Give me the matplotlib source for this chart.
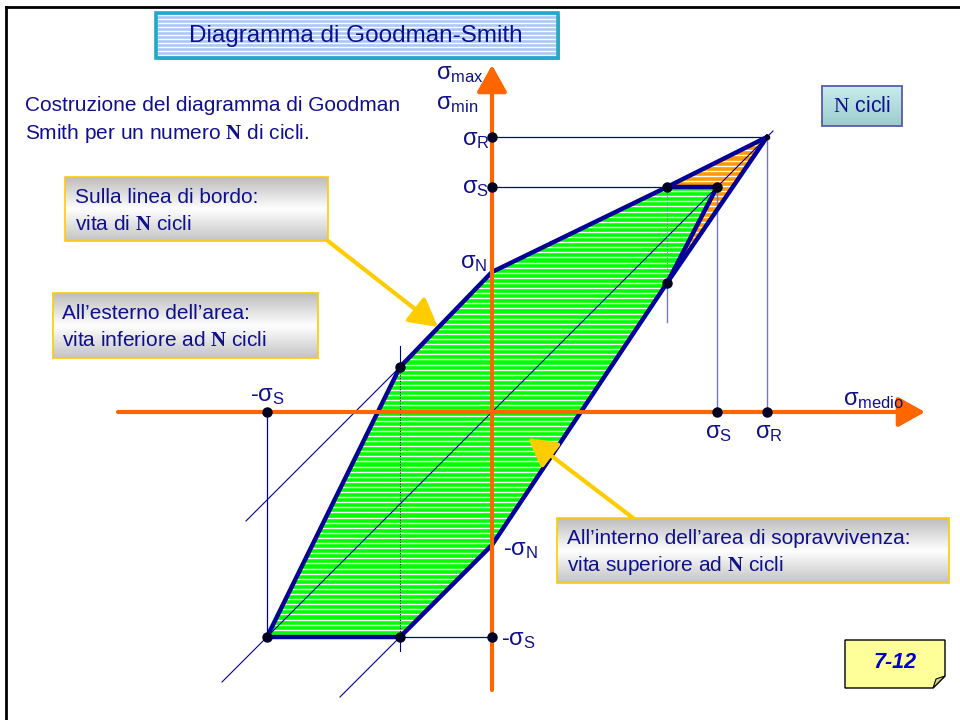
import numpy as np
import matplotlib
matplotlib.use("Agg")
import matplotlib.pyplot as plt
from matplotlib.patches import Polygon, Rectangle
from matplotlib.transforms import Affine2D
from matplotlib.colors import LinearSegmentedColormap

plt.rcParams['font.family'] = ['Liberation Sans', 'DejaVu Sans']
plt.rcParams['mathtext.fontset'] = 'custom'
plt.rcParams['mathtext.rm'] = 'Liberation Sans'
plt.rcParams['mathtext.it'] = 'Liberation Sans'
plt.rcParams['mathtext.bf'] = 'Liberation Serif:bold'
plt.rcParams['mathtext.sf'] = 'Liberation Serif'

# strengths (MPa)
sigma_R = 550
sigma_S = 450
sigma_N = 280
sigma_N_neg = -266

# sigma_max boundary (mean stress, stress)
upper_m = [-184, 0, 350, 550]
upper_s = [90, sigma_N, sigma_S, sigma_R]
# sigma_min boundary
lower_m = [550, 350, 0, -184]
lower_s = [sigma_R, 258, sigma_N_neg, -sigma_S]
# survival area (green) and region cut by yield (orange)
green_m = [-450, -184, 0, 350, 450, 350, 0, -184]
green_s = [-450, 90, sigma_N, sigma_S, sigma_S, 258, sigma_N_neg, -sigma_S]
orange_m = [350, 550, 350, 450]
orange_s = [sigma_S, sigma_R, 258, sigma_S]
# construction lines at 45 deg
bisect_m = [-540, 562]
constr1_m = [-492, -184]
constr1_s = [-218, 90]
constr2_m = [-304, -184]
constr2_s = [-570, -450]
# marked points
dots_m = [0, 0, -450, 450, 550, 0, -450, -184, -184, 350, 450, 350]
dots_s = [550, 450, 0, 0, 0, -450, -450, -450, 90, 450, 450, 258]

navy = '#000099'
txt = '#10108c'
orange_ax = '#ff6600'
gold = '#ffcc00'
pale = '#7777c0'

fig = plt.figure(figsize=(9.6, 7.2), dpi=100)
ax = fig.add_axes([0, 0, 1, 1])
ax.axis('off')

# diagram coordinates -> page pixels
diag = Affine2D().scale(0.5, -0.5).translate(492, 412) + ax.transData

# filled areas with white horizontal stripes
gp = Polygon(np.column_stack([green_m, green_s]), closed=True, transform=diag,
             facecolor='#00ff00', edgecolor='none', zorder=1)
op = Polygon(np.column_stack([orange_m, orange_s]), closed=True, transform=diag,
             facecolor='#ff9900', edgecolor='none', zorder=1)
ax.add_patch(gp)
ax.add_patch(op)
for p in (gp, op):
    hl = ax.hlines(np.arange(130, 650, 5.1), 200, 800, colors='white', lw=1.0, zorder=1.5)
    hl.set_clip_path(p)

# thin construction lines
ax.plot(bisect_m, bisect_m, color=navy, lw=0.8, transform=diag, zorder=2)
ax.plot(constr1_m, constr1_s, color=navy, lw=0.8, transform=diag, zorder=2)
ax.plot(constr2_m, constr2_s, color=navy, lw=0.8, transform=diag, zorder=2)
ax.plot([0, sigma_R], [sigma_R, sigma_R], color=navy, lw=0.9, transform=diag, zorder=2)
ax.plot([0, 350], [sigma_S, sigma_S], color=navy, lw=0.9, transform=diag, zorder=2)
ax.plot([-184, 0], [-sigma_S, -sigma_S], color=navy, lw=0.9, transform=diag, zorder=2)
ax.plot([-450, -450], [0, -450], color=navy, lw=0.9, transform=diag, zorder=2)
ax.plot([-184, -184], [-450, 90], color='#000044', lw=0.8, ls=(0, (1, 1.5)), transform=diag, zorder=2)
ax.plot([-184, -184], [90, 132], color=navy, lw=0.8, transform=diag, zorder=2)
ax.plot([-184, -184], [-450, -478], color=navy, lw=0.8, transform=diag, zorder=2)
ax.plot([350, 350], [258, 450], color=pale, lw=0.8, ls=(0, (1, 1.5)), transform=diag, zorder=2)
ax.plot([350, 350], [258, 180], color=pale, lw=1.0, transform=diag, zorder=2)
ax.plot([450, 450], [0, 450], color=pale, lw=1.0, transform=diag, zorder=2)
ax.plot([550, 550], [0, 550], color=pale, lw=1.0, transform=diag, zorder=2)

# boundaries
ax.plot(upper_m, upper_s, color=navy, lw=3.2, solid_joinstyle='round', transform=diag, zorder=3)
ax.plot(lower_m, lower_s, color=navy, lw=3.2, solid_joinstyle='round', transform=diag, zorder=3)
ax.plot([-450, -184], [-450, 90], color=navy, lw=3.2, transform=diag, zorder=3)
ax.plot([-450, -184], [-450, -450], color=navy, lw=3.2, transform=diag, zorder=3)
ax.plot([350, 450, 350], [450, 450, 258], color=navy, lw=3.2, solid_joinstyle='round',
        transform=diag, zorder=3)

# axes
arrow_kw = dict(arrowstyle='-|>,head_length=0.75,head_width=0.42', color=orange_ax,
                lw=3, mutation_scale=22, shrinkA=0, shrinkB=0)
ax.annotate('', xy=(866, 0), xytext=(-748, 0), xycoords=diag, textcoords=diag,
            arrowprops=dict(arrow_kw, zorder=4))
ax.plot(dots_m, dots_s, 'o', color='#000022', ms=6.5, transform=diag, zorder=5)
ax.plot([550], [550], 'o', color='#000022', ms=3, transform=diag, zorder=5)
ax.annotate('', xy=(0, 694), xytext=(0, -556), xycoords=diag, textcoords=diag,
            arrowprops=dict(arrow_kw, zorder=6))

# axis labels
lab = dict(color=txt, fontsize=17, ha='left', va='baseline', zorder=7)
ax.text(436, 79, r'$σ_{max}$', **lab)
ax.text(436, 109, r'$σ_{min}$', **lab)
ax.text(462, 145, r'$σ_{R}$', **lab)
ax.text(462, 193, r'$σ_{S}$', **lab)
ax.text(460, 268, r'$σ_{N}$', **lab)
ax.text(503, 555, r'-$σ_{N}$', **lab)
ax.text(501, 645, r'-$σ_{S}$', **lab)
ax.text(250, 401, r'-$σ_{S}$', **lab)
ax.text(705, 438, r'$σ_{S}$', **lab)
ax.text(755, 438, r'$σ_{R}$', **lab)
ax.text(843, 405, r'$σ_{medio}$', **lab)

# page frame
ax.plot([6, 960], [7, 7], color='black', lw=2, zorder=8)
ax.plot([6, 6], [7, 720], color='black', lw=2, zorder=8)

# title box
tb = Rectangle((156, 13), 402, 45, facecolor='#a9c8f4', edgecolor='none', zorder=2)
ax.add_patch(tb)
hl = ax.hlines(np.arange(15, 58, 4), 156, 558, colors='white', lw=1.0, zorder=2.5)
hl.set_clip_path(tb)
ax.add_patch(Rectangle((156, 13), 402, 45, facecolor='none', edgecolor='#22a8c8', lw=2.6, zorder=3))
ax.plot([159, 559, 559], [59, 59, 16], color='#888888', lw=1.2, zorder=2.9)
ax.text(356, 36, 'Diagramma di Goodman-Smith', color=txt, fontsize=17.5,
        ha='center', va='center', zorder=4)

# description
ax.text(25, 111, 'Costruzione del diagramma di Goodman', color=txt, fontsize=15,
        ha='left', va='baseline')
ax.text(25, 139, r'Smith per un numero $\mathbf{N}$ di cicli.', color=txt, fontsize=15,
        ha='left', va='baseline')

# callout boxes with grey gradient
grey = LinearSegmentedColormap.from_list('g', ['#bdbdbd', '#ffffff', '#c4c4c4'])
grad = np.linspace(0, 1, 64).reshape(-1, 1)


def callout(x0, y0, x1, y1, lines, tx):
    ax.imshow(grad, cmap=grey, aspect='auto', extent=(x0, x1, y1, y0),
              interpolation='bicubic', zorder=3)
    ax.add_patch(Rectangle((x0, y0), x1 - x0, y1 - y0, facecolor='none',
                           edgecolor=gold, lw=1.2, zorder=3.5))
    for i, s in enumerate(lines):
        ax.text(tx, y0 + 26 + i * 27, s, color=txt, fontsize=15,
                ha='left', va='baseline', zorder=4)


callout(65, 177, 328, 241, ['Sulla linea di bordo:', r'vita di $\mathbf{N}$ cicli'], 75)
callout(53, 293, 318, 358, ['All’esterno dell’area:', r'vita inferiore ad $\mathbf{N}$ cicli'], 62)
callout(557, 518, 949, 583, ['All’interno dell’area di sopravvivenza:',
                             r'vita superiore ad $\mathbf{N}$ cicli'], 567)

gold_kw = dict(arrowstyle='-|>,head_length=1.0,head_width=0.55', color=gold, lw=3,
               mutation_scale=17, shrinkA=0, shrinkB=0)
ax.annotate('', xy=(438, 327), xytext=(328, 241), arrowprops=dict(gold_kw, zorder=7))
ax.annotate('', xy=(528, 438), xytext=(633, 518), arrowprops=dict(gold_kw, zorder=7))

# N cicli box
teal = LinearSegmentedColormap.from_list('t', ['#c8ecec', '#9ccccc'])
ax.imshow(grad, cmap=teal, aspect='auto', extent=(822, 902, 126, 86), zorder=3)
ax.add_patch(Rectangle((822, 86), 80, 40, facecolor='none', edgecolor='#5a5aa8', lw=1.3, zorder=3.5))
ax.text(862, 107, r'$\mathsf{N}$ cicli', color=txt, fontsize=15.5, ha='center', va='center', zorder=4)

# page number tag
ax.add_patch(Polygon([(845, 640), (945, 640), (945, 676), (933, 688), (845, 688)],
                     closed=True, facecolor='#ffff99', edgecolor='black', lw=1, zorder=3))
ax.add_patch(Polygon([(933, 688), (936, 679), (945, 676)], closed=True,
                     facecolor='#d8d88a', edgecolor='black', lw=0.8, zorder=3.5))
ax.text(895, 663, '7-12', color='#0000cc', fontsize=15.5, fontweight='bold', fontstyle='italic',
        ha='center', va='center', zorder=4)

ax.set_xlim(0, 960)
ax.set_ylim(720, 0)
fig.savefig('out.png', dpi=100)
